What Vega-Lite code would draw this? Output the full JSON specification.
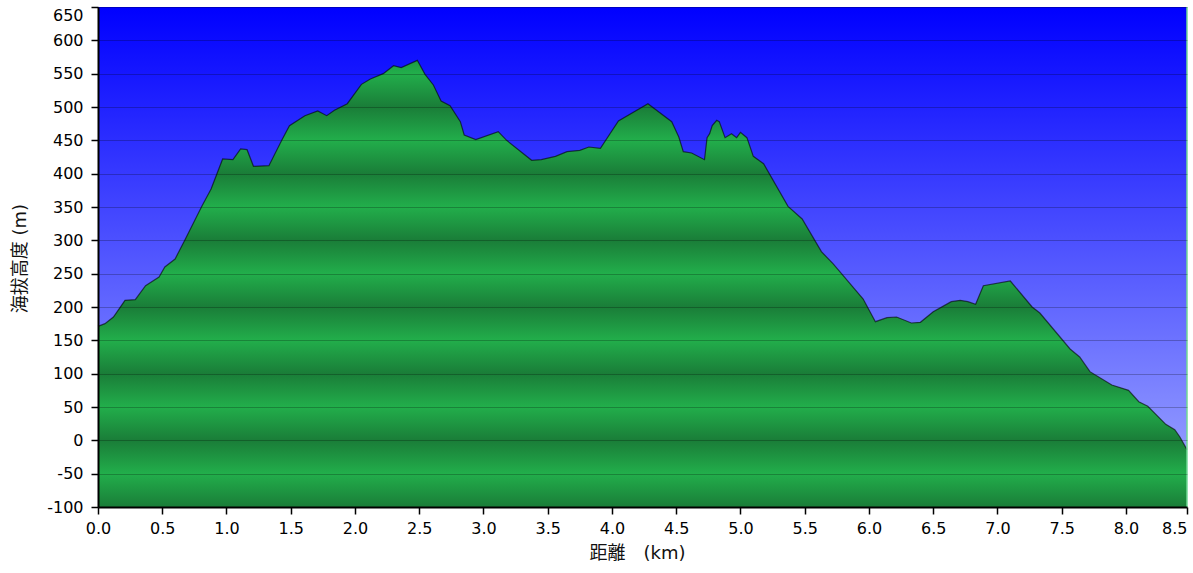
{
  "$schema": "https://vega.github.io/schema/vega-lite/v6.json",
  "width": 1089,
  "height": 500,
  "autosize": {"type": "none"},
  "padding": {"left": 98, "top": 7, "right": 6, "bottom": 66},
  "background": "white",
  "view": {
    "stroke": null,
    "fill": {
      "gradient": "linear", "x1": 0, "y1": 0, "x2": 0, "y2": 1,
      "stops": [
        {"offset": 0, "color": "#0000ff"},
        {"offset": 1, "color": "#a3acff"}
      ]
    }
  },
  "config": {
    "axis": {
      "labelFont": "DejaVu Sans",
      "labelFontSize": 16,
      "labelColor": "#000",
      "labelOverlap": false,
      "labelFlush": false,
      "tickColor": "#000",
      "tickSize": 7,
      "tickWidth": 1.5,
      "domainColor": "#000",
      "domainWidth": 2,
      "titleFont": "DejaVu Sans, Noto Sans CJK JP",
      "titleFontSize": 18,
      "titleFontWeight": "normal",
      "titleColor": "#111"
    }
  },
  "data": {
    "values": [
      {"km": 0, "elev": 171}, {"km": 0.054, "elev": 175}, {"km": 0.12, "elev": 185},
      {"km": 0.21, "elev": 210}, {"km": 0.29, "elev": 211}, {"km": 0.37, "elev": 232},
      {"km": 0.475, "elev": 245}, {"km": 0.52, "elev": 260}, {"km": 0.6, "elev": 272},
      {"km": 0.68, "elev": 302}, {"km": 0.81, "elev": 352}, {"km": 0.88, "elev": 377},
      {"km": 0.97, "elev": 422}, {"km": 1.05, "elev": 421}, {"km": 1.11, "elev": 437},
      {"km": 1.16, "elev": 436}, {"km": 1.21, "elev": 411}, {"km": 1.33, "elev": 412},
      {"km": 1.43, "elev": 450}, {"km": 1.49, "elev": 472}, {"km": 1.61, "elev": 487},
      {"km": 1.71, "elev": 494}, {"km": 1.78, "elev": 487}, {"km": 1.84, "elev": 495},
      {"km": 1.94, "elev": 505}, {"km": 2.05, "elev": 534}, {"km": 2.12, "elev": 542},
      {"km": 2.22, "elev": 550}, {"km": 2.3, "elev": 562}, {"km": 2.36, "elev": 559},
      {"km": 2.485, "elev": 570}, {"km": 2.545, "elev": 549}, {"km": 2.61, "elev": 533},
      {"km": 2.67, "elev": 509}, {"km": 2.74, "elev": 502}, {"km": 2.82, "elev": 478},
      {"km": 2.85, "elev": 458}, {"km": 2.94, "elev": 451}, {"km": 3.115, "elev": 463},
      {"km": 3.18, "elev": 450}, {"km": 3.375, "elev": 420}, {"km": 3.45, "elev": 421},
      {"km": 3.56, "elev": 426}, {"km": 3.65, "elev": 433}, {"km": 3.75, "elev": 435},
      {"km": 3.82, "elev": 440}, {"km": 3.91, "elev": 438}, {"km": 4.05, "elev": 479},
      {"km": 4.28, "elev": 505}, {"km": 4.465, "elev": 478}, {"km": 4.52, "elev": 455},
      {"km": 4.555, "elev": 433}, {"km": 4.62, "elev": 431}, {"km": 4.72, "elev": 421},
      {"km": 4.74, "elev": 454}, {"km": 4.76, "elev": 460}, {"km": 4.78, "elev": 472},
      {"km": 4.815, "elev": 480}, {"km": 4.835, "elev": 478}, {"km": 4.88, "elev": 454},
      {"km": 4.93, "elev": 460}, {"km": 4.97, "elev": 454}, {"km": 5.0, "elev": 462},
      {"km": 5.05, "elev": 454}, {"km": 5.1, "elev": 426}, {"km": 5.18, "elev": 415},
      {"km": 5.37, "elev": 351}, {"km": 5.48, "elev": 332}, {"km": 5.63, "elev": 283},
      {"km": 5.72, "elev": 265}, {"km": 5.955, "elev": 212}, {"km": 6.05, "elev": 178},
      {"km": 6.14, "elev": 184}, {"km": 6.215, "elev": 185}, {"km": 6.33, "elev": 176},
      {"km": 6.4, "elev": 177}, {"km": 6.5, "elev": 193}, {"km": 6.64, "elev": 208},
      {"km": 6.71, "elev": 210}, {"km": 6.77, "elev": 208}, {"km": 6.83, "elev": 204},
      {"km": 6.89, "elev": 232}, {"km": 7.1, "elev": 239}, {"km": 7.27, "elev": 200},
      {"km": 7.33, "elev": 191}, {"km": 7.565, "elev": 137}, {"km": 7.64, "elev": 125},
      {"km": 7.72, "elev": 103}, {"km": 7.89, "elev": 83}, {"km": 8.02, "elev": 75},
      {"km": 8.1, "elev": 58}, {"km": 8.17, "elev": 51}, {"km": 8.31, "elev": 24},
      {"km": 8.38, "elev": 16}, {"km": 8.42, "elev": 5}, {"km": 8.475, "elev": -14}
    ]
  },
  "encoding": {
    "x": {
      "field": "km", "type": "quantitative",
      "scale": {"domain": [0, 8.475], "nice": false},
      "axis": {
        "title": "距離　(km)",
        "values": [0, 0.5, 1, 1.5, 2, 2.5, 3, 3.5, 4, 4.5, 5, 5.5, 6, 6.5, 7, 7.5, 8, 8.475],
        "format": ".1f",
        "labelAlign": {"condition": {"test": "datum.value > 8.4", "value": "right"}, "value": "center"},
        "labelPadding": 6,
        "grid": false,
        "titleX": 539,
        "titleY": 46,
        "titleBaseline": "middle",
        "zindex": 1
      }
    },
    "y": {
      "field": "elev", "type": "quantitative",
      "scale": {"domain": [-100, 650], "nice": false, "zero": false},
      "axis": {
        "title": "海拔高度 (m)",
        "values": [-100, -50, 0, 50, 100, 150, 200, 250, 300, 350, 400, 450, 500, 550, 600, 650],
        "tickCount": 16,
        "labelOverlap": false,
        "labelExpr": "'' + datum.value",
        "labelBaseline": {"condition": {"test": "datum.value == 650", "value": "top"}, "value": "middle"},
        "labelPadding": 8,
        "grid": true,
        "gridColor": "#000",
        "gridOpacity": 0.24,
        "gridWidth": 1,
        "titleX": -78,
        "titleY": 251,
        "titleAngle": -90,
        "titleAlign": "center",
        "titleBaseline": "middle",
        "zindex": 1
      }
    }
  },
  "layer": [
    {
      "mark": {
        "type": "area",
        "interpolate": "linear",
        "color": {
          "gradient": "linear", "x1": 0, "y1": 0, "x2": 0, "y2": 1,
          "stops": [
            {"offset": 0, "color": "#1d9a43"},
            {"offset": 0.02985, "color": "#22ae4b"},
            {"offset": 0.10448, "color": "#1a7d38"},
            {"offset": 0.1791, "color": "#22ae4b"},
            {"offset": 0.25373, "color": "#1a7d38"},
            {"offset": 0.32836, "color": "#22ae4b"},
            {"offset": 0.40299, "color": "#1a7d38"},
            {"offset": 0.47761, "color": "#22ae4b"},
            {"offset": 0.55224, "color": "#1a7d38"},
            {"offset": 0.62687, "color": "#22ae4b"},
            {"offset": 0.70149, "color": "#1a7d38"},
            {"offset": 0.77612, "color": "#22ae4b"},
            {"offset": 0.85075, "color": "#1a7d38"},
            {"offset": 0.92537, "color": "#22ae4b"},
            {"offset": 1, "color": "#1a7d38"}
          ]
        }
      },
      "encoding": {
        "y2": {"datum": -100}
      }
    },
    {
      "mark": {"type": "line", "color": "#000", "opacity": 0.6, "strokeWidth": 1.2},
      "encoding": {}
    },
    {
      "data": {"values": [{"km": 8.475}]},
      "mark": {"type": "rule", "color": "#72d896", "strokeWidth": 1.5},
      "encoding": {"y": null}
    }
  ]
}
